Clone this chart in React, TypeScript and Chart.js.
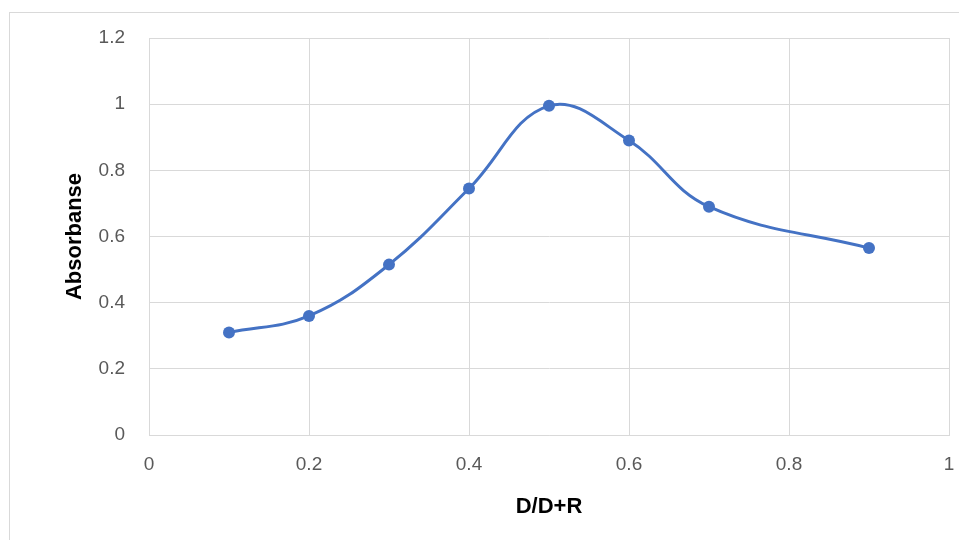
import React, { useEffect, useRef } from "react";
import { Chart, registerables } from "chart.js";

Chart.register(...registerables);

// Mole fraction of donor D/(D+R) and the measured absorbance (Job's plot)
const moleFraction = [0.1, 0.2, 0.3, 0.4, 0.5, 0.6, 0.7, 0.9];
const absorbance = [0.31, 0.36, 0.515, 0.745, 0.995, 0.89, 0.69, 0.565];

const xTitle = "D/D+R";
const yTitle = "Absorbanse";

const GRID = "#d9d9d9";
const TICK = "#595959";
const LINE = "#4472C4";
const FONT = "'Liberation Sans', Arial, sans-serif";

// Light outer frame around the chart object
const framePlugin = {
  id: "outerFrame",
  beforeDraw(chart: Chart) {
    const ctx = chart.ctx;
    ctx.save();
    ctx.strokeStyle = GRID;
    ctx.lineWidth = 1;
    ctx.strokeRect(9.5, 12.5, chart.width + 20, chart.height + 20);
    ctx.restore();
  },
};

export default function App() {
  const canvasRef = useRef<HTMLCanvasElement | null>(null);

  useEffect(() => {
    document.body.style.margin = "0";
    const canvas = canvasRef.current;
    if (!canvas) return;
    const chart = new Chart(canvas, {
      type: "line",
      data: {
        datasets: [
          {
            data: moleFraction.map((x, i) => ({ x, y: absorbance[i] })),
            borderColor: LINE,
            backgroundColor: LINE,
            borderWidth: 3,
            pointRadius: 6,
            pointBorderWidth: 0,
            pointBackgroundColor: LINE,
            tension: 0.4,
            fill: false,
          },
        ],
      },
      options: {
        animation: false,
        responsive: false,
        maintainAspectRatio: false,
        devicePixelRatio: 1,
        layout: { padding: { top: 38, right: 10, left: 0, bottom: 0 } },
        plugins: {
          legend: { display: false },
          tooltip: { enabled: false },
        },
        scales: {
          x: {
            type: "linear",
            min: 0,
            max: 1,
            afterFit: (s: any) => {
              s.height = 105;
              s.paddingLeft = 0;
              s.paddingRight = 0;
            },
            ticks: {
              stepSize: 0.2,
              padding: 18,
              color: TICK,
              font: { family: FONT, size: 19 },
              callback: (v: any) => String(+Number(v).toFixed(1)),
            },
            grid: { color: GRID, drawTicks: false },
            border: { color: GRID },
            title: {
              display: true,
              text: xTitle,
              color: "#000000",
              font: { family: FONT, size: 22, weight: "bold" },
              padding: { top: 0, bottom: 20 },
            },
          },
          y: {
            min: 0,
            max: 1.2,
            afterFit: (s: any) => {
              s.width = 149;
              s.paddingTop = 0;
              s.paddingBottom = 0;
            },
            ticks: {
              stepSize: 0.2,
              padding: 24,
              color: TICK,
              font: { family: FONT, size: 19 },
              callback: (v: any) => String(+Number(v).toFixed(1)),
            },
            grid: { color: GRID, drawTicks: false },
            border: { color: GRID },
            title: {
              display: true,
              text: yTitle,
              color: "#000000",
              font: { family: FONT, size: 22, weight: "bold" },
              padding: { top: 62, bottom: 0 },
            },
          },
        },
      },
      plugins: [framePlugin],
    });
    return () => chart.destroy();
  }, []);

  return (
    <div style={{ position: "absolute", left: 0, top: 0, width: 959, height: 540, background: "#ffffff" }}>
      <canvas ref={canvasRef} width={959} height={540} style={{ display: "block" }} />
    </div>
  );
}
